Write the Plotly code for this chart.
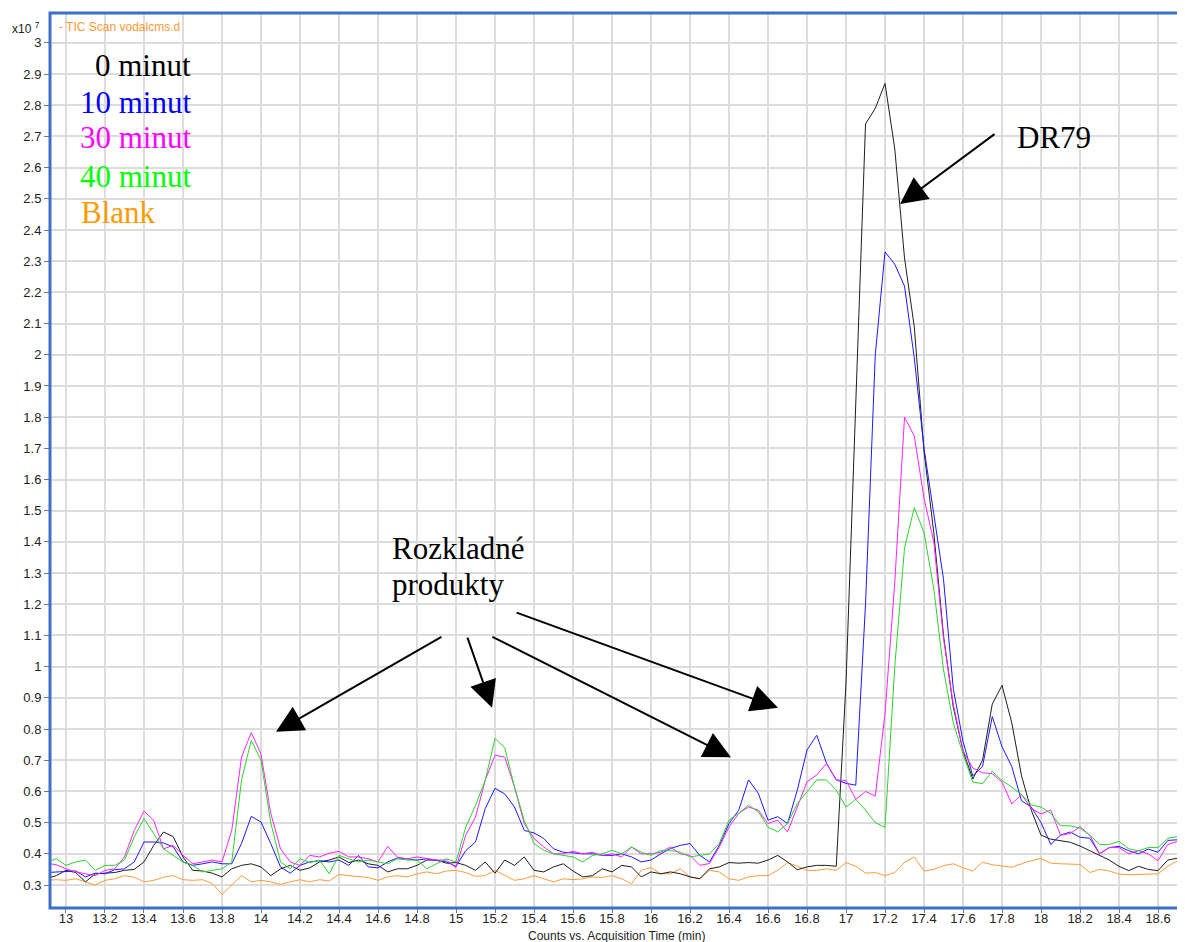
import plotly.graph_objects as go

# ---------------- data (values in units of 10^7 counts) ----------------
time_min = [
    12.90, 12.95, 13.00, 13.05, 13.10, 13.15, 13.20, 13.25, 13.30, 13.35,
    13.40, 13.45, 13.50, 13.55, 13.60, 13.65, 13.70, 13.75, 13.80, 13.85,
    13.90, 13.95, 14.00, 14.05, 14.10, 14.15, 14.20, 14.25, 14.30, 14.35,
    14.40, 14.45, 14.50, 14.55, 14.60, 14.65, 14.70, 14.75, 14.80, 14.85,
    14.90, 14.95, 15.00, 15.05, 15.10, 15.15, 15.20, 15.25, 15.30, 15.35,
    15.40, 15.45, 15.50, 15.55, 15.60, 15.65, 15.70, 15.75, 15.80, 15.85,
    15.90, 15.95, 16.00, 16.05, 16.10, 16.15, 16.20, 16.25, 16.30, 16.35,
    16.40, 16.45, 16.50, 16.55, 16.60, 16.65, 16.70, 16.75, 16.80, 16.85,
    16.90, 16.95, 17.00, 17.05, 17.10, 17.15, 17.20, 17.25, 17.30, 17.35,
    17.40, 17.45, 17.50, 17.55, 17.60, 17.65, 17.70, 17.75, 17.80, 17.85,
    17.90, 17.95, 18.00, 18.05, 18.10, 18.15, 18.20, 18.25, 18.30, 18.35,
    18.40, 18.45, 18.50, 18.55, 18.60, 18.65, 18.70, 18.75,
]

min0 = [
    0.320, 0.330, 0.347, 0.340, 0.310, 0.336, 0.338, 0.340, 0.347, 0.350,
    0.374, 0.427, 0.470, 0.455, 0.390, 0.347, 0.345, 0.338, 0.326, 0.352,
    0.363, 0.368, 0.358, 0.330, 0.352, 0.363, 0.347, 0.355, 0.374, 0.380,
    0.390, 0.372, 0.380, 0.368, 0.363, 0.342, 0.352, 0.352, 0.363, 0.380,
    0.380, 0.370, 0.372, 0.363, 0.347, 0.374, 0.338, 0.380, 0.363, 0.390,
    0.347, 0.342, 0.358, 0.368, 0.345, 0.326, 0.330, 0.352, 0.342, 0.363,
    0.358, 0.326, 0.342, 0.336, 0.342, 0.336, 0.326, 0.320, 0.352, 0.358,
    0.372, 0.370, 0.372, 0.370, 0.380, 0.395, 0.374, 0.349, 0.358, 0.363,
    0.363, 0.360, 0.950, 1.880, 2.740, 2.790, 2.870, 2.660, 2.310, 2.090,
    1.690, 1.430, 1.100, 0.870, 0.730, 0.640, 0.700, 0.880, 0.940, 0.820,
    0.650, 0.540, 0.460, 0.447, 0.443, 0.437, 0.425, 0.410, 0.395, 0.380,
    0.360, 0.346, 0.360, 0.350, 0.346, 0.380, 0.386, 0.357,
]

min10 = [
    0.340, 0.342, 0.342, 0.345, 0.326, 0.338, 0.336, 0.349, 0.352, 0.374,
    0.438, 0.438, 0.435, 0.422, 0.374, 0.363, 0.368, 0.374, 0.368, 0.368,
    0.433, 0.520, 0.502, 0.433, 0.358, 0.338, 0.363, 0.374, 0.378, 0.374,
    0.380, 0.363, 0.395, 0.358, 0.355, 0.374, 0.387, 0.384, 0.380, 0.384,
    0.380, 0.374, 0.360, 0.410, 0.438, 0.545, 0.610, 0.592, 0.550, 0.475,
    0.467, 0.449, 0.416, 0.405, 0.403, 0.400, 0.400, 0.395, 0.395, 0.400,
    0.390, 0.374, 0.380, 0.400, 0.417, 0.427, 0.433, 0.395, 0.374, 0.427,
    0.497, 0.540, 0.637, 0.594, 0.508, 0.519, 0.497, 0.604, 0.733, 0.780,
    0.690, 0.637, 0.626, 0.620, 1.200, 2.000, 2.330, 2.290, 2.220, 1.990,
    1.700, 1.490, 1.280, 0.930, 0.760, 0.650, 0.680, 0.840, 0.743, 0.680,
    0.570, 0.550, 0.500, 0.430, 0.460, 0.470, 0.453, 0.450, 0.400, 0.420,
    0.424, 0.410, 0.400, 0.415, 0.405, 0.443, 0.445, 0.420,
]

min30 = [
    0.370, 0.365, 0.352, 0.342, 0.336, 0.330, 0.347, 0.352, 0.390, 0.475,
    0.537, 0.507, 0.416, 0.427, 0.395, 0.368, 0.374, 0.380, 0.374, 0.475,
    0.710, 0.789, 0.720, 0.530, 0.416, 0.374, 0.363, 0.395, 0.390, 0.402,
    0.408, 0.390, 0.390, 0.384, 0.374, 0.424, 0.389, 0.384, 0.390, 0.384,
    0.380, 0.380, 0.356, 0.460, 0.518, 0.636, 0.716, 0.710, 0.614, 0.497,
    0.449, 0.422, 0.400, 0.400, 0.408, 0.400, 0.405, 0.395, 0.400, 0.390,
    0.422, 0.400, 0.400, 0.405, 0.422, 0.400, 0.395, 0.363, 0.369, 0.422,
    0.486, 0.530, 0.550, 0.540, 0.497, 0.508, 0.470, 0.550, 0.631, 0.653,
    0.690, 0.637, 0.635, 0.575, 0.600, 0.585, 0.850, 1.270, 1.800, 1.740,
    1.540, 1.400, 1.090, 0.880, 0.730, 0.675, 0.660, 0.657, 0.630, 0.560,
    0.590, 0.545, 0.528, 0.540, 0.460, 0.465, 0.487, 0.460, 0.400, 0.420,
    0.420, 0.400, 0.410, 0.400, 0.378, 0.430, 0.440, 0.425,
]

min40 = [
    0.374, 0.384, 0.363, 0.374, 0.380, 0.347, 0.363, 0.363, 0.380, 0.454,
    0.513, 0.465, 0.416, 0.395, 0.374, 0.363, 0.342, 0.347, 0.352, 0.374,
    0.636, 0.764, 0.700, 0.500, 0.374, 0.352, 0.384, 0.372, 0.380, 0.336,
    0.395, 0.384, 0.374, 0.380, 0.374, 0.368, 0.384, 0.380, 0.380, 0.352,
    0.368, 0.384, 0.374, 0.486, 0.555, 0.636, 0.770, 0.740, 0.614, 0.507,
    0.433, 0.411, 0.400, 0.395, 0.390, 0.374, 0.395, 0.400, 0.411, 0.400,
    0.422, 0.405, 0.395, 0.411, 0.411, 0.405, 0.390, 0.395, 0.400, 0.433,
    0.508, 0.530, 0.556, 0.535, 0.486, 0.470, 0.497, 0.561, 0.600, 0.637,
    0.637, 0.604, 0.550, 0.575, 0.540, 0.500, 0.485, 1.000, 1.380, 1.510,
    1.430, 1.250, 0.990, 0.820, 0.720, 0.630, 0.625, 0.665, 0.635, 0.614,
    0.590, 0.557, 0.550, 0.530, 0.490, 0.490, 0.482, 0.460, 0.430, 0.430,
    0.440, 0.416, 0.410, 0.420, 0.420, 0.450, 0.455, 0.443,
]

blank = [
    0.315, 0.317, 0.315, 0.320, 0.310, 0.300, 0.315, 0.320, 0.330, 0.325,
    0.310, 0.315, 0.325, 0.330, 0.317, 0.315, 0.317, 0.305, 0.270, 0.300,
    0.330, 0.310, 0.315, 0.310, 0.302, 0.310, 0.317, 0.310, 0.317, 0.313,
    0.334, 0.330, 0.326, 0.324, 0.315, 0.326, 0.330, 0.326, 0.336, 0.342,
    0.336, 0.345, 0.347, 0.340, 0.328, 0.330, 0.347, 0.330, 0.315, 0.320,
    0.330, 0.320, 0.310, 0.320, 0.317, 0.320, 0.326, 0.324, 0.330, 0.320,
    0.304, 0.347, 0.356, 0.336, 0.336, 0.352, 0.326, 0.320, 0.347, 0.342,
    0.320, 0.315, 0.326, 0.330, 0.330, 0.347, 0.372, 0.360, 0.347, 0.347,
    0.352, 0.347, 0.372, 0.360, 0.338, 0.340, 0.330, 0.340, 0.373, 0.390,
    0.345, 0.350, 0.362, 0.368, 0.355, 0.345, 0.373, 0.365, 0.360, 0.357,
    0.368, 0.378, 0.385, 0.370, 0.368, 0.368, 0.366, 0.340, 0.350, 0.345,
    0.335, 0.333, 0.335, 0.335, 0.336, 0.360, 0.378, 0.370,
]

series_names = ["0 minut", "10 minut", "30 minut", "40 minut", "Blank"]

x_tick_vals = [13.0, 13.2, 13.4, 13.6, 13.8, 14.0, 14.2, 14.4, 14.6, 14.8,
               15.0, 15.2, 15.4, 15.6, 15.8, 16.0, 16.2, 16.4, 16.6, 16.8,
               17.0, 17.2, 17.4, 17.6, 17.8, 18.0, 18.2, 18.4, 18.6]
x_tick_text = ["13", "13.2", "13.4", "13.6", "13.8", "14", "14.2", "14.4", "14.6", "14.8",
               "15", "15.2", "15.4", "15.6", "15.8", "16", "16.2", "16.4", "16.6", "16.8",
               "17", "17.2", "17.4", "17.6", "17.8", "18", "18.2", "18.4", "18.6"]
y_tick_vals = [0.3, 0.4, 0.5, 0.6, 0.7, 0.8, 0.9, 1.0, 1.1, 1.2, 1.3, 1.4, 1.5, 1.6,
               1.7, 1.8, 1.9, 2.0, 2.1, 2.2, 2.3, 2.4, 2.5, 2.6, 2.7, 2.8, 2.9, 3.0]
y_tick_text = ["0.3", "0.4", "0.5", "0.6", "0.7", "0.8", "0.9", "1", "1.1", "1.2", "1.3",
               "1.4", "1.5", "1.6", "1.7", "1.8", "1.9", "2", "2.1", "2.2", "2.3", "2.4",
               "2.5", "2.6", "2.7", "2.8", "2.9", "3"]

# ---------------- styling ----------------
line_colors = {"0 minut": "#1e1e1e", "10 minut": "#1a1aff", "30 minut": "#ff22ff",
               "40 minut": "#2bd42b", "Blank": "#ff9a3a"}
text_colors = {"0 minut": "#000000", "10 minut": "#0000ff", "30 minut": "#ff00ff",
               "40 minut": "#00ff00", "Blank": "#ff9900"}
serif = "Liberation Serif, Times New Roman, serif"
sans = "Liberation Sans, Arial, sans-serif"

fig = go.Figure()
for name, vals in [("Blank", blank), ("0 minut", min0), ("10 minut", min10),
                   ("30 minut", min30), ("40 minut", min40)]:
    fig.add_trace(go.Scatter(x=time_min, y=vals, mode="lines", name=name,
                             line=dict(color=line_colors[name], width=1),
                             showlegend=False))

annotations = []
# legend-like labels
legend_pos = [("0 minut", 13.651, 2.929, "right"), ("10 minut", 13.651, 2.810, "right"),
              ("30 minut", 13.651, 2.695, "right"), ("40 minut", 13.651, 2.573, "right"),
              ("Blank", 13.067, 2.455, "left")]
for name, lx, ly, anc in legend_pos:
    annotations.append(dict(x=lx, y=ly, xref="x", yref="y", text=name, showarrow=False,
                            xanchor=anc, yanchor="middle",
                            font=dict(family=serif, size=31, color=text_colors[name])))

annotations.append(dict(x=17.867, y=2.695, xref="x", yref="y", text="DR79", showarrow=False,
                        xanchor="left", yanchor="middle", font=dict(family=serif, size=31, color="black")))
annotations.append(dict(x=14.662, y=1.380, xref="x", yref="y", text="Rozkladné", showarrow=False,
                        xanchor="left", yanchor="middle", font=dict(family=serif, size=31, color="black")))
annotations.append(dict(x=14.662, y=1.262, xref="x", yref="y", text="produkty", showarrow=False,
                        xanchor="left", yanchor="middle", font=dict(family=serif, size=31, color="black")))

arrows = [  # (tail_x, tail_y, tip_x, tip_y)
    (17.769, 2.711, 17.277, 2.483),
    (14.933, 1.098, 14.077, 0.791),
    (15.056, 1.098, 15.185, 0.868),
    (15.179, 1.098, 16.410, 0.710),
    (15.303, 1.175, 16.651, 0.868),
]
for tx, ty, hx, hy in arrows:
    annotations.append(dict(x=hx, y=hy, ax=tx, ay=ty, xref="x", yref="y", axref="x", ayref="y",
                            text="", showarrow=True, arrowhead=2, arrowsize=2.7, arrowwidth=2,
                            arrowcolor="black"))

# small header texts
annotations.append(dict(x=0.006, y=0.984, xref="paper", yref="paper", text="- TIC Scan vodalcms.d",
                        showarrow=False, xanchor="left", yanchor="middle",
                        font=dict(family=sans, size=12, color="#ff9933")))
annotations.append(dict(x=-0.035, y=0.983, xref="paper", yref="paper", text="x10 <sup>7</sup>",
                        showarrow=False, xanchor="left", yanchor="middle",
                        font=dict(family=sans, size=12, color="#222222")))
annotations.append(dict(x=0.5, y=-0.0313, xref="paper", yref="paper",
                        text="Counts vs. Acquisition Time (min)", showarrow=False,
                        xanchor="center", yanchor="middle",
                        font=dict(family=sans, size=12, color="#222222")))

# the page body adds an 8 px margin, so the figure is sized/margined to compensate
fig.update_layout(
    width=1177, height=934,
    margin=dict(l=42, r=2, t=5, b=34),
    paper_bgcolor="white", plot_bgcolor="white",
    annotations=annotations,
    shapes=[dict(type="rect", xref="paper", yref="paper", x0=0, x1=1, y0=0, y1=1,
                 line=dict(color="#3a70c8", width=3), layer="above")],
    xaxis=dict(range=[12.918, 18.728], tickvals=x_tick_vals, ticktext=x_tick_text,
               showgrid=True, gridcolor="#dcdcdc", gridwidth=1.5, zeroline=False,
               ticks="outside", ticklen=4, tickcolor="#777777", ticklabelstandoff=-6,
               tickfont=dict(family=sans, size=13, color="#222222")),
    yaxis=dict(range=[0.2263, 3.0957], tickvals=y_tick_vals, ticktext=y_tick_text,
               showgrid=True, gridcolor="#dcdcdc", gridwidth=1.5, zeroline=False,
               ticks="outside", ticklen=5, tickcolor="#777777",
               tickfont=dict(family=sans, size=13, color="#222222")),
)

fig.write_html("out.html")
